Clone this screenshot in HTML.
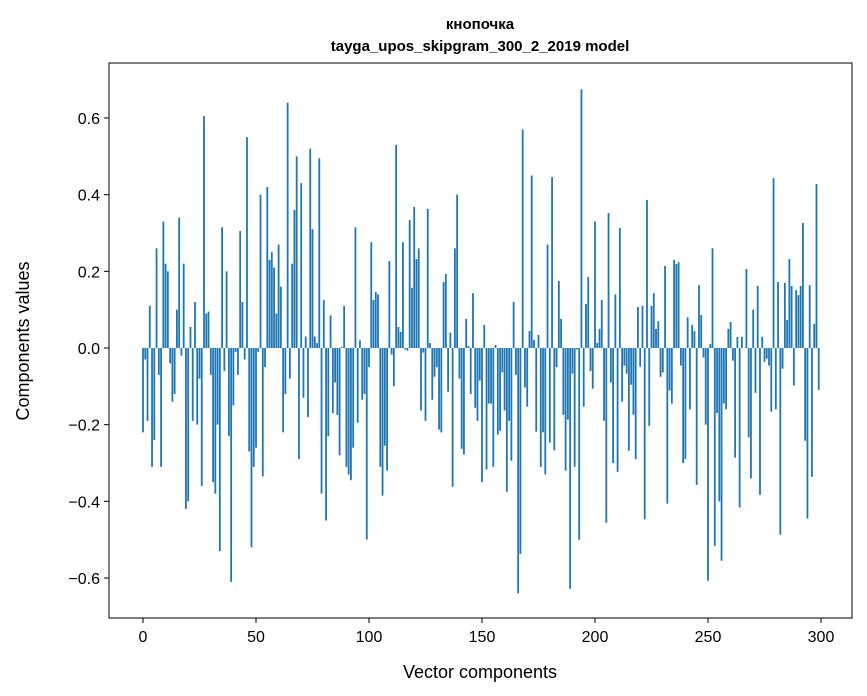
<!DOCTYPE html>
<html><head><meta charset="utf-8"><style>
html,body{margin:0;padding:0;background:#fff;}
svg{display:block;font-family:"Liberation Sans","DejaVu Sans",sans-serif;}
</style></head><body>
<svg id="chart" width="867" height="696" viewBox="0 0 867 696">
<text x="480" y="29" text-anchor="middle" font-size="15" font-weight="bold">кнопочка</text>
<text x="480" y="51" text-anchor="middle" font-size="15" font-weight="bold">tayga_upos_skipgram_300_2_2019 model</text>
<g id="bars"></g>
<rect x="109" y="63" width="743" height="555" fill="none" stroke="#000" stroke-width="1"/>
<g id="xticks"></g>
<g id="yticks"></g>
<text x="480" y="678" text-anchor="middle" font-size="18">Vector components</text>
<text x="0" y="0" transform="translate(29,341) rotate(-90)" text-anchor="middle" font-size="18">Components values</text>
</svg>
<script>
const values = [-0.22,-0.03,-0.19,0.11,-0.31,-0.24,0.26,-0.07,-0.31,0.33,
0.22,0.20,-0.04,-0.14,-0.12,0.10,0.34,-0.02,0.22,-0.42,
-0.40,0.055,-0.19,0.12,-0.20,-0.08,-0.36,0.605,0.09,0.095,
-0.07,-0.35,-0.38,-0.20,-0.53,0.315,-0.06,0.20,-0.23,-0.61,
-0.15,-0.01,-0.07,0.305,0.12,-0.03,0.55,-0.27,-0.52,-0.31,
-0.26,-0.01,0.40,-0.335,-0.05,0.42,0.23,0.25,0.21,0.09,
0.27,0.16,-0.22,-0.12,0.64,-0.08,0.22,0.36,0.50,-0.29,
0.43,-0.13,0.03,-0.18,0.52,0.31,0.03,0.013,0.495,-0.38,
0.125,-0.45,-0.23,0.085,-0.17,-0.09,-0.175,-0.28,0.003,0.11,
-0.31,-0.33,-0.345,-0.26,0.315,-0.195,0.02,-0.135,-0.12,-0.50,
-0.05,0.276,0.125,0.146,0.14,-0.31,-0.385,-0.255,-0.32,0.227,
-0.017,-0.10,0.53,0.055,0.042,0.276,-0.004,-0.007,0.334,0.157,
0.368,0.232,0.26,-0.163,-0.012,-0.19,0.363,0.013,-0.135,-0.075,
-0.05,-0.213,-0.22,0.172,0.193,-0.114,0.04,-0.362,0.26,0.40,
-0.08,-0.263,-0.278,0.076,0.005,-0.12,0.143,-0.156,-0.19,-0.085,
-0.35,0.06,-0.317,-0.145,-0.145,-0.31,0.008,-0.226,-0.216,-0.064,
-0.163,-0.375,-0.19,-0.294,0.12,-0.07,-0.64,-0.537,0.57,-0.103,
-0.153,0.044,0.45,0.021,-0.218,0.034,-0.31,-0.22,-0.33,0.27,
-0.247,0.446,-0.267,-0.05,0.175,0.076,-0.174,-0.32,-0.187,-0.628,
-0.067,-0.31,-0.004,-0.50,0.675,-0.153,0.115,0.185,-0.06,-0.106,
0.33,0.013,0.05,0.125,-0.19,-0.456,0.352,-0.09,-0.30,0.14,
-0.323,0.313,-0.14,-0.046,-0.067,-0.268,-0.096,-0.174,-0.29,0.107,
-0.049,0.11,-0.447,0.386,-0.203,0.11,0.143,0.05,0.07,-0.075,
-0.064,0.214,-0.406,-0.111,-0.145,0.23,0.219,0.224,-0.046,-0.30,
-0.29,0.08,-0.16,0.06,0.044,-0.357,0.164,0.086,-0.025,-0.2,
-0.607,0.01,0.26,-0.516,-0.17,-0.40,-0.555,-0.145,-0.16,0.05,
0.068,-0.033,-0.286,0.029,-0.416,0.029,0.0,0.206,-0.233,-0.34,
0.1,-0.117,0.162,-0.383,0.029,-0.036,-0.028,-0.046,-0.166,0.443,
-0.16,0.172,-0.487,-0.054,0.17,0.073,0.232,0.162,-0.098,0.151,
0.138,0.162,0.326,-0.242,-0.445,0.164,-0.336,0.063,0.428,-0.109];
const xTicks = [0,50,100,150,200,250,300];
const yTicks = [-0.6,-0.4,-0.2,0.0,0.2,0.4,0.6];
const yTickLabels = ["\u22120.6","\u22120.4","\u22120.2","0.0","0.2","0.4","0.6"];

const NS="http://www.w3.org/2000/svg";
const xScale = v => 143 + v*(821-143)/300;
const yScale = v => 348 - v*(348-118)/0.6;
const barW = 0.8*(821-143)/300;
const barsG=document.getElementById('bars');
values.forEach((v,i)=>{
  const r=document.createElementNS(NS,'rect');
  const y0=yScale(0), y1=yScale(v);
  r.setAttribute('x',xScale(i)-barW/2);
  r.setAttribute('y',Math.min(y0,y1));
  r.setAttribute('width',barW);
  r.setAttribute('height',Math.max(Math.abs(y1-y0),0.3));
  r.setAttribute('fill','#1f77b4');
  
  
  barsG.appendChild(r);
});
const xg=document.getElementById('xticks');
xTicks.forEach(t=>{
  const x=xScale(t);
  const l=document.createElementNS(NS,'line');
  l.setAttribute('x1',x);l.setAttribute('x2',x);l.setAttribute('y1',618);l.setAttribute('y2',623);
  l.setAttribute('stroke','#000');
  
  
  xg.appendChild(l);
  const tx=document.createElementNS(NS,'text');
  tx.setAttribute('x',x);tx.setAttribute('y',642);tx.setAttribute('text-anchor','middle');tx.setAttribute('font-size','16');
  tx.textContent=String(t);
  
  
  xg.appendChild(tx);
});
const yg=document.getElementById('yticks');
yTicks.forEach((t,i)=>{
  const y=yScale(t);
  const l=document.createElementNS(NS,'line');
  l.setAttribute('x1',104);l.setAttribute('x2',109);l.setAttribute('y1',y);l.setAttribute('y2',y);
  l.setAttribute('stroke','#000');
  
  
  yg.appendChild(l);
  const tx=document.createElementNS(NS,'text');
  tx.setAttribute('x',100);tx.setAttribute('y',y+6);tx.setAttribute('text-anchor','end');tx.setAttribute('font-size','16');
  tx.textContent=yTickLabels[i];
  
  
  yg.appendChild(tx);
});
</script>
</body></html>
